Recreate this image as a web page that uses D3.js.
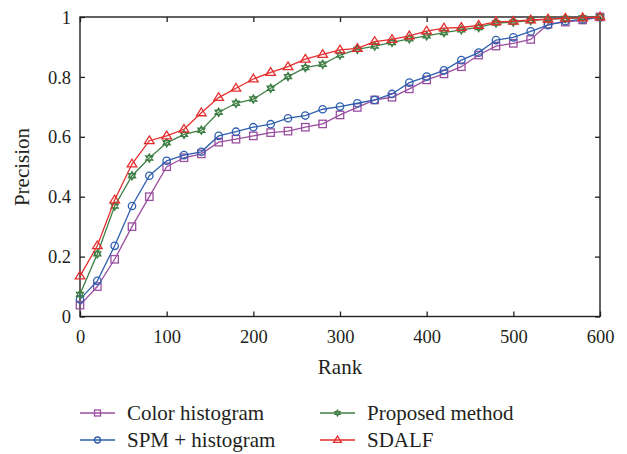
<!DOCTYPE html>
<html><head><meta charset="utf-8">
<script src="https://cdn.jsdelivr.net/npm/d3@7"></script>
<style>body{margin:0;background:#fff}svg text{font-family:"Liberation Serif","DejaVu Serif",serif !important;fill:#231f20}</style>
</head><body><svg id="c" width="627" height="454"></svg>
<script>
const ranks = d3.range(0, 601, 20);
const colorHist = [0.038,0.100,0.191,0.300,0.400,0.500,0.530,0.543,0.582,0.592,0.603,0.614,0.619,0.632,0.643,0.673,0.698,0.723,0.732,0.760,0.790,0.810,0.834,0.873,0.903,0.912,0.925,0.976,0.983,0.990,1.0];
const spmHist = [0.057,0.119,0.236,0.369,0.470,0.520,0.539,0.550,0.603,0.617,0.632,0.642,0.662,0.671,0.692,0.701,0.712,0.723,0.743,0.781,0.801,0.822,0.856,0.881,0.923,0.932,0.952,0.973,0.986,0.992,1.0];
const proposed = [0.074,0.209,0.369,0.470,0.529,0.580,0.608,0.622,0.682,0.712,0.726,0.762,0.801,0.831,0.842,0.873,0.892,0.903,0.915,0.927,0.937,0.948,0.957,0.965,0.980,0.983,0.988,0.993,0.995,0.997,1.0];
const sdalf = [0.135,0.236,0.389,0.509,0.587,0.603,0.625,0.680,0.731,0.762,0.793,0.815,0.834,0.859,0.875,0.890,0.895,0.918,0.925,0.937,0.953,0.963,0.965,0.972,0.984,0.986,0.990,0.993,0.996,0.997,1.0];
const xTicks = [0,100,200,300,400,500,600];
const yTicks = [0,0.2,0.4,0.6,0.8,1];
const yTickLabels = ["0","0.2","0.4","0.6","0.8","1"];
const seriesNames = ["Color histogram","SPM + histogram","Proposed method","SDALF"];
const seriesColors = ["#9a4ea0","#2f5fae","#3f7f45","#e52d2e"];
const seriesMarkers = ["square","circle","star","triangle"];
const seriesValues = [colorHist, spmHist, proposed, sdalf];

const svg = d3.select("#c");
const x = d3.scaleLinear().domain([0,600]).range([80,600]);
const y = d3.scaleLinear().domain([0,1]).range([316.5,17]);

function marker(g, type, cx, cy, color, s){
  if(type==="square") g.append("rect").attr("x",cx-s).attr("y",cy-s).attr("width",2*s).attr("height",2*s).attr("fill","none").attr("stroke",color).attr("stroke-width",1.3);
  else if(type==="circle") g.append("circle").attr("cx",cx).attr("cy",cy).attr("r",s).attr("fill","none").attr("stroke",color).attr("stroke-width",1.3);
  else if(type==="triangle"){ const r=s*1.3; g.append("path").attr("d",`M${cx},${cy-r}L${cx+r*1.0},${cy+r*0.6}L${cx-r*1.0},${cy+r*0.6}Z`).attr("fill","none").attr("stroke",color).attr("stroke-width",1.3);}
  else { const r=s; const p=(a)=>[cx+r*Math.sin(a),cy-r*Math.cos(a)];
    const t1=[0,2*Math.PI/3,4*Math.PI/3].map(p), t2=[Math.PI/3,Math.PI,5*Math.PI/3].map(p);
    g.append("path").attr("d","M"+t1.join("L")+"Z M"+t2.join("L")+"Z").attr("fill","none").attr("stroke",color).attr("stroke-width",1.2);}
}

// frame
svg.append("rect").attr("x",80).attr("y",17).attr("width",520).attr("height",299.5).attr("fill","none").attr("stroke","#231f20").attr("stroke-width",1.4);
const axB = svg.append("g").attr("transform","translate(0,316.5)").call(d3.axisBottom(x).tickValues(xTicks).tickSize(-5).tickPadding(11).tickFormat(d3.format("d")));
const axT = svg.append("g").attr("transform","translate(0,17)").call(d3.axisTop(x).tickValues(xTicks).tickSize(-5).tickFormat(""));
const axL = svg.append("g").attr("transform","translate(80,0)").call(d3.axisLeft(y).tickValues(yTicks).tickSize(-5).tickPadding(9).tickFormat((d,i)=>yTickLabels[i]));
const axR = svg.append("g").attr("transform","translate(600,0)").call(d3.axisRight(y).tickValues(yTicks).tickSize(-5).tickFormat(""));
[axB,axT,axL,axR].forEach(a=>{a.attr("font-family",null);a.select(".domain").remove();a.selectAll("line").attr("stroke","#231f20").attr("stroke-width",1.3);a.selectAll("text").style("font-size","18.5px").attr("fill","#231f20");});
axB.selectAll("text").attr("dy","0.85em");
axL.selectAll("text").attr("dy","0.33em");

svg.append("text").attr("x",340).attr("y",374).attr("text-anchor","middle").style("font-size","21px").text("Rank");
svg.append("text").attr("transform","translate(29,167) rotate(-90)").attr("text-anchor","middle").style("font-size","21px").text("Precision");

const line = d3.line().x((d,i)=>x(ranks[i])).y(d=>y(d));
seriesValues.forEach((vals,k)=>{
  const g = svg.append("g");
  g.append("path").datum(vals).attr("d",line).attr("fill","none").attr("stroke",seriesColors[k]).attr("stroke-width",1.3);
  vals.forEach((v,i)=>marker(g, seriesMarkers[k], x(ranks[i]), y(v), seriesColors[k], seriesMarkers[k]==="star"?4.2:3.7));
});

// legend
const legPos = [[80,413],[80,440],[320,413],[320,440]];
seriesNames.forEach((n,k)=>{
  const [lx,ly]=legPos[k];
  const g=svg.append("g");
  g.append("line").attr("x1",lx).attr("x2",lx+35).attr("y1",ly).attr("y2",ly).attr("stroke",seriesColors[k]).attr("stroke-width",1.3);
  marker(g, seriesMarkers[k], lx+17.5, ly, seriesColors[k], 3);
  g.append("text").attr("x",lx+47).attr("y",ly+7).style("font-size","21px").text(n);
});
</script></body></html>
